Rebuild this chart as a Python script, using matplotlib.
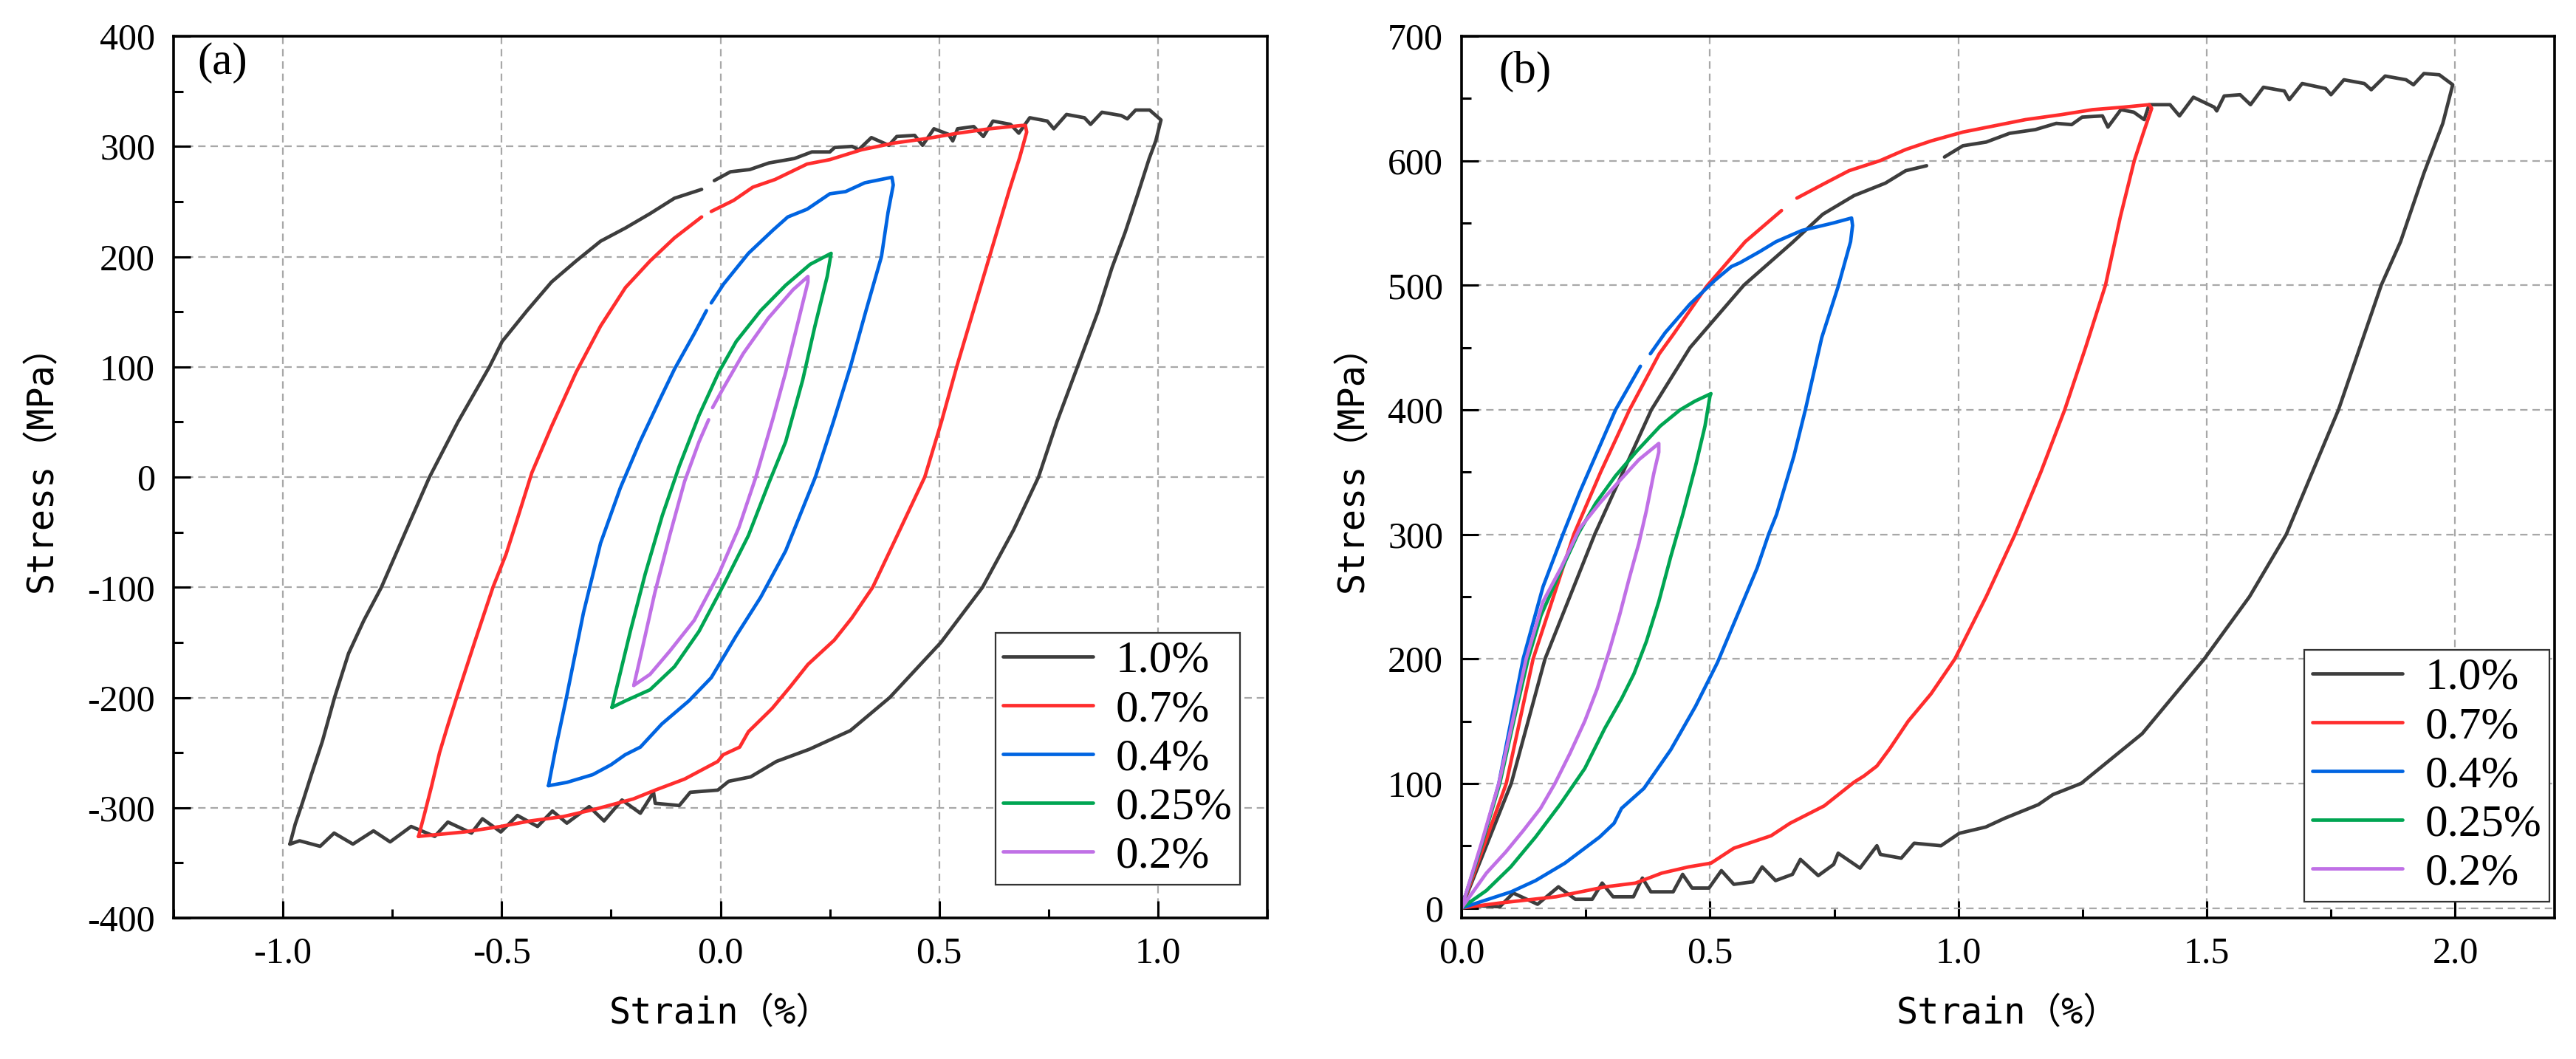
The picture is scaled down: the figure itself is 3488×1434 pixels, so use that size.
import numpy as np
import matplotlib
matplotlib.use("Agg")
import matplotlib.pyplot as plt
from matplotlib.ticker import MultipleLocator, FormatStrFormatter

nan = float("nan")

# ---------------- data: panel (a), symmetric cyclic loops (strain %, stress MPa)
a_loop_10 = [(-0.984, -333), (-0.972, -315), (-0.955, -295), (-0.935, -270), (-0.91, -240),
             (-0.882, -200), (-0.85, -160), (-0.815, -130), (-0.775, -100), (-0.718, -48),
             (-0.665, 0), (-0.60, 50), (-0.528, 100), (-0.499, 123), (-0.442, 151), (-0.386, 177),
             (-0.33, 196), (-0.274, 214), (-0.217, 226), (-0.161, 239), (-0.105, 253), (-0.043, 261),
             (nan, nan), (-0.014, 269),
             (0.023, 277), (0.067, 279), (0.111, 285), (0.169, 289), (0.209, 295), (0.25, 295),
             (0.261, 299), (0.301, 300), (0.316, 297), (0.345, 308), (0.385, 301), (0.403, 309),
             (0.444, 310), (0.462, 301), (0.488, 316), (0.521, 311), (0.531, 305), (0.542, 316),
             (0.579, 318), (0.601, 309), (0.623, 323), (0.663, 320), (0.682, 312), (0.707, 326),
             (0.747, 323), (0.762, 316), (0.791, 329), (0.832, 326), (0.846, 320), (0.872, 331),
             (0.916, 328), (0.930, 325), (0.949, 333), (0.981, 333), (1.007, 324), (0.995, 305),
             (0.98, 289), (0.955, 258), (0.925, 222), (0.895, 190), (0.863, 150), (0.816, 100),
             (0.769, 50), (0.727, 0), (0.67, -48), (0.599, -100), (0.504, -150), (0.387, -200),
             (0.297, -230), (0.203, -247), (0.128, -258), (0.069, -272), (0.019, -276), (-0.006, -284),
             (-0.069, -286), (-0.094, -298), (-0.149, -296), (-0.153, -286), (-0.183, -305),
             (-0.225, -293), (-0.266, -312), (-0.30, -299), (-0.351, -314), (-0.384, -303),
             (-0.418, -317), (-0.464, -307), (-0.502, -322), (-0.544, -310), (-0.569, -323),
             (-0.623, -313), (-0.653, -326), (-0.707, -317), (-0.755, -331), (-0.793, -321),
             (-0.84, -333), (-0.883, -323), (-0.915, -335), (-0.962, -330), (-0.984, -333)]

a_loop_07 = [(-0.690, -326), (-0.676, -305), (-0.66, -280), (-0.642, -250), (-0.623, -225),
             (-0.603, -200), (-0.562, -150), (-0.52, -100), (-0.49, -70), (-0.465, -39),
             (-0.431, 4), (-0.386, 46), (-0.33, 95),
             (-0.274, 137), (-0.217, 172), (-0.161, 196), (-0.105, 217), (-0.043, 236), (nan, nan),
             (-0.021, 241), (0.03, 251), (0.074, 263), (0.125, 270), (0.198, 284), (0.25, 288),
             (0.323, 297), (0.396, 303), (0.469, 307), (0.543, 312), (0.615, 316), (0.689, 319),
             (0.697, 319), (0.700, 313), (0.684, 290), (0.66, 260), (0.63, 220), (0.60, 180),
             (0.57, 140), (0.54, 100), (0.505, 50), (0.467, 0), (0.41, -48), (0.348, -100),
             (0.30, -128), (0.26, -148), (0.20, -170), (0.16, -190), (0.118, -210), (0.064, -231),
             (0.044, -245), (0.006, -252),
             (-0.006, -258), (-0.082, -274), (-0.149, -284), (-0.199, -292), (-0.283, -301),
             (-0.359, -308), (-0.435, -312), (-0.502, -317), (-0.586, -322), (-0.690, -326)]

a_loop_04 = [(-0.393, -280), (-0.376, -245), (-0.352, -200), (-0.313, -123), (-0.274, -60),
             (-0.229, -10), (-0.184, 32), (-0.139, 70), (-0.105, 98), (-0.06, 130), (-0.032, 151),
             (nan, nan), (-0.021, 158), (0.007, 175), (0.064, 203), (0.12, 224), (0.154, 236),
             (0.198, 243), (0.25, 257), (0.286, 259), (0.33, 267), (0.367, 270), (0.392, 272),
             (0.395, 265), (0.383, 240), (0.368, 200), (0.332, 150), (0.297, 100), (0.258, 50),
             (0.217, 0), (0.149, -67), (0.092, -109), (0.036, -144), (-0.021, -182), (-0.072, -203),
             (-0.134, -224), (-0.183, -245), (-0.218, -252), (-0.25, -261), (-0.292, -270),
             (-0.351, -277), (-0.393, -280)]

a_loop_025 = [(-0.248, -209), (-0.234, -186), (-0.206, -140), (-0.172, -88), (-0.133, -35),
              (-0.094, 10), (-0.049, 56), (-0.004, 95), (0.036, 123), (0.092, 151), (0.149, 174),
              (0.205, 193), (0.253, 203), (0.244, 182), (0.216, 137), (0.188, 88), (0.149, 32),
              (0.109, -7), (0.064, -53), (0.007, -98), (-0.049, -140), (-0.105, -172), (-0.161, -193),
              (-0.217, -203), (-0.248, -209)]

a_loop_02 = [(-0.198, -189), (-0.184, -165), (-0.15, -105), (-0.116, -53), (-0.082, -4),
             (-0.049, 32), (-0.027, 52), (nan, nan), (-0.018, 63), (0.007, 81), (0.052, 112),
             (0.109, 144), (0.166, 170), (0.20, 182), (0.20, 177), (0.177, 140), (0.149, 95),
             (0.12, 53), (0.081, 0), (0.042, -46), (-0.004, -88), (-0.06, -130), (-0.116, -158),
             (-0.161, -179), (-0.198, -189)]

# ---------------- data: panel (b), tension loops from zero
b_loop_10 = [(0.0, 0), (0.1, 100), (0.168, 200), (0.268, 300), (0.382, 400), (0.46, 450),
             (0.568, 500), (0.665, 534), (0.727, 557), (0.79, 572), (0.853, 582), (0.894, 592),
             (0.936, 596), (nan, nan), (0.972, 603), (1.009, 612), (1.056, 615), (1.103, 622),
             (1.155, 625), (1.197, 630), (1.228, 629), (1.249, 635), (1.29, 636), (1.301, 627),
             (1.327, 641), (1.353, 639), (1.374, 633), (1.384, 645), (1.426, 645), (1.445, 636),
             (1.473, 651), (1.515, 643), (1.52, 640), (1.535, 652), (1.567, 653), (1.588, 645),
             (1.614, 659), (1.656, 656), (1.666, 649), (1.692, 662), (1.739, 658), (1.75, 653),
             (1.776, 665), (1.817, 662), (1.831, 657), (1.859, 668), (1.901, 665), (1.916, 661),
             (1.937, 670), (1.968, 669), (1.995, 661), (1.975, 630), (1.937, 590), (1.89, 535),
             (1.851, 500), (1.765, 400), (1.66, 300), (1.586, 250), (1.495, 200), (1.37, 140),
             (1.247, 100), (1.19, 91), (1.161, 83), (1.093, 72), (1.055, 65), (1.002, 60),
             (0.965, 50), (0.911, 52), (0.885, 40), (0.843, 43), (0.836, 50), (0.802, 32),
             (0.758, 44), (0.749, 35), (0.718, 26), (0.682, 39), (0.666, 27), (0.632, 22),
             (0.605, 33), (0.586, 21), (0.548, 19), (0.523, 30), (0.498, 16), (0.464, 16),
             (0.445, 27), (0.426, 13), (0.381, 13), (0.364, 24), (0.346, 9), (0.305, 9),
             (0.283, 20), (0.263, 7), (0.229, 7), (0.195, 17), (0.153, 3), (0.104, 12),
             (0.077, 1), (0.02, 2), (0.006, 9), (0.0, 0)]

b_loop_07 = [(0.0, 0), (0.045, 50), (0.09, 100), (0.144, 200), (0.226, 300), (0.28, 350),
             (0.338, 400), (0.398, 445), (0.427, 461), (0.493, 499), (0.571, 535), (0.644, 560),
             (nan, nan), (0.675, 570), (0.727, 581), (0.78, 592), (0.842, 600), (0.894, 609),
             (0.946, 616), (1.009, 623), (1.072, 628), (1.135, 633), (1.207, 637), (1.27, 641),
             (1.332, 643), (1.384, 645), (1.389, 642), (1.372, 622), (1.354, 600), (1.326, 555),
             (1.296, 500), (1.256, 450), (1.214, 400), (1.166, 350), (1.114, 300), (1.056, 250),
             (0.993, 200), (0.945, 172), (0.899, 150), (0.862, 128), (0.836, 114), (0.81, 106),
             (0.79, 101), (0.73, 82), (0.661, 68), (0.623, 58), (0.548, 48), (0.502, 36),
             (0.457, 33), (0.403, 28), (0.35, 20), (0.29, 17), (0.19, 9), (0.077, 4), (0.0, 0)]

b_loop_04 = [(0.0, 0), (0.04, 50), (0.075, 100), (0.124, 200), (0.164, 258), (0.204, 300),
             (0.238, 334), (0.31, 400), (0.36, 435), (nan, nan), (0.38, 445), (0.41, 462),
             (0.46, 485), (0.51, 504), (0.543, 515), (0.56, 518), (0.60, 527), (0.633, 535),
             (0.685, 544), (0.748, 550), (0.785, 554), (0.787, 548), (0.783, 535), (0.758, 499),
             (0.725, 458), (0.692, 400), (0.669, 363), (0.634, 316), (0.618, 300), (0.595, 273),
             (0.555, 235), (0.515, 197), (0.471, 162), (0.421, 127), (0.367, 96), (0.322, 80),
             (0.307, 68), (0.278, 57), (0.208, 36), (0.149, 22), (0.10, 13), (0.0, 0)]

b_loop_025 = [(0.0, 0), (0.04, 50), (0.077, 100), (0.105, 150), (0.134, 200), (0.16, 235),
              (0.19, 262), (0.234, 300), (0.27, 325), (0.31, 347), (0.353, 367), (0.40, 387),
              (0.44, 400), (0.47, 407), (0.502, 413), (0.50, 411), (0.49, 387), (0.471, 355),
              (0.446, 317), (0.421, 282), (0.397, 246), (0.372, 214), (0.347, 188), (0.322, 168),
              (0.288, 144), (0.248, 112), (0.198, 83), (0.149, 57), (0.099, 33), (0.05, 14), (0.0, 0)]

b_loop_02 = [(0.0, 0), (0.04, 52), (0.075, 100), (0.10, 145), (0.13, 200), (0.164, 246),
             (0.20, 273), (0.238, 305), (0.278, 325), (0.318, 343), (0.357, 360), (0.397, 373),
             (0.397, 366), (0.387, 349), (0.372, 319), (0.357, 293), (0.337, 264), (0.318, 235),
             (0.297, 206), (0.273, 176), (0.248, 150), (0.218, 124), (0.188, 100), (0.159, 80),
             (0.124, 62), (0.089, 45), (0.05, 28), (0.0, 0)]

labels = ["1.0%", "0.7%", "0.4%", "0.25%", "0.2%"]
colors = ["#3d3d3d", "#ff2d2d", "#0064e1", "#00a552", "#c070e6"]

a_series = [a_loop_10, a_loop_07, a_loop_04, a_loop_025, a_loop_02]
b_series = [b_loop_10, b_loop_07, b_loop_04, b_loop_025, b_loop_02]

# ---------------- figure
plt.rcParams["font.family"] = ["Liberation Serif", "DejaVu Serif"]
plt.rcParams["axes.unicode_minus"] = False

W, H = 3488, 1434
fig = plt.figure(figsize=(W / 200, H / 200), dpi=200)
axA = fig.add_axes([235 / W, 1 - 1243 / H, (1716 - 235) / W, (1243 - 49) / H])
axB = fig.add_axes([1979 / W, 1 - 1243 / H, (3459 - 1979) / W, (1243 - 49) / H])

label_font = ["DejaVu Sans Mono", "Noto Sans CJK SC"]


def style(ax):
    for s in ax.spines.values():
        s.set_linewidth(1.3)
        s.set_color("black")
    ax.tick_params(which="both", direction="in", top=False, right=False)
    ax.tick_params(which="major", length=8.3, width=1.1, pad=9, labelsize=18)
    ax.tick_params(which="minor", length=4.5, width=1.1)
    ax.grid(True, which="major", color="#a8a8a8", linestyle=(0, (4.5, 3)), linewidth=0.8)
    ax.set_axisbelow(True)


def draw(ax, series):
    for data, lab, col in zip(series, labels, colors):
        arr = np.array(data, dtype=float)
        ax.plot(arr[:, 0], arr[:, 1], color=col, lw=1.7, label=lab,
                solid_capstyle="round", solid_joinstyle="round")


draw(axA, a_series)
draw(axB, b_series)

for ax in (axA, axB):
    style(ax)

axA.set_xlim(-1.25, 1.25)
axA.set_ylim(-400, 400)
axA.xaxis.set_major_locator(MultipleLocator(0.5))
axA.xaxis.set_minor_locator(MultipleLocator(0.25))
axA.yaxis.set_major_locator(MultipleLocator(100))
axA.yaxis.set_minor_locator(MultipleLocator(50))

axB.set_xlim(0, 2.2)
axB.set_ylim(-8, 700)
axB.xaxis.set_major_locator(MultipleLocator(0.5))
axB.xaxis.set_minor_locator(MultipleLocator(0.25))
axB.yaxis.set_major_locator(MultipleLocator(100))
axB.yaxis.set_minor_locator(MultipleLocator(50))

for ax in (axA, axB):
    ax.xaxis.set_major_formatter(FormatStrFormatter("%.1f"))
    ax.yaxis.set_major_formatter(FormatStrFormatter("%d"))
    ax.set_xlabel("Strain（%）", fontsize=17.5, family=label_font, va="center")
    ax.set_ylabel("Stress（MPa）", fontsize=17.5, family=label_font, va="center")
    ax.xaxis.set_label_coords(0.5, -0.108)

axA.yaxis.set_label_coords(-0.121, 0.52)
axB.yaxis.set_label_coords(-0.100, 0.52)

axA.text(0.022, 0.993, "(a)", transform=axA.transAxes, ha="left", va="top", fontsize=22)
axB.text(0.034, 0.983, "(b)", transform=axB.transAxes, ha="left", va="top", fontsize=22)

for ax, anchor in ((axA, (0.975, 0.0377)), (axB, (0.995, 0.0184))):
    leg = ax.legend(loc="lower right", bbox_to_anchor=anchor, borderaxespad=0,
                    prop={"family": "Liberation Serif", "size": 22},
                    handlelength=2.0, handletextpad=0.5, labelspacing=0.17, borderpad=0.17,
                    fancybox=False, edgecolor="#333333", framealpha=1)
    leg.get_frame().set_linewidth(0.8)
    for ln in leg.get_lines():
        ln.set_linewidth(1.7)

fig.savefig("out.png", dpi=200, facecolor="white")
